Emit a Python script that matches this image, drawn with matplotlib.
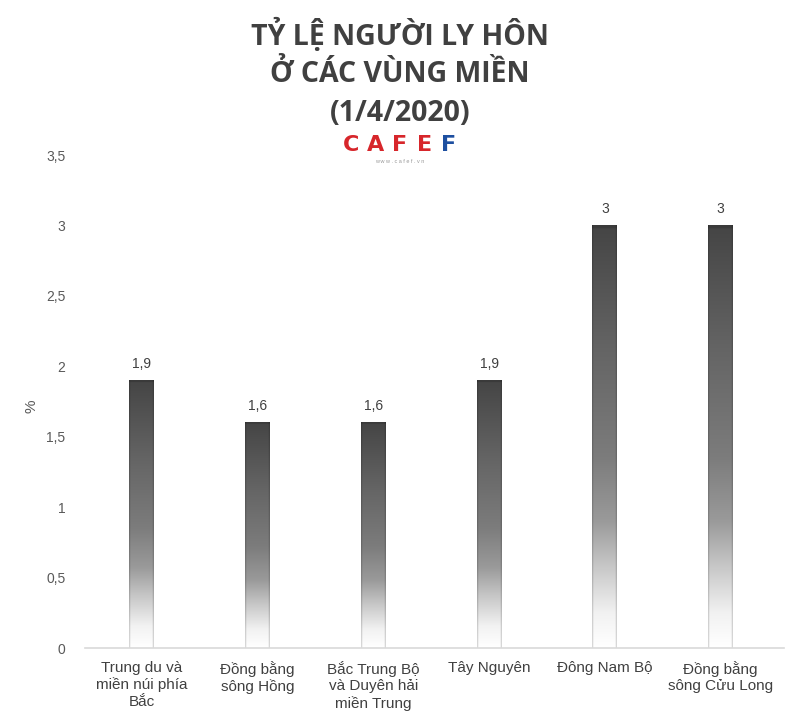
import numpy as np
import matplotlib.pyplot as plt
from matplotlib.colors import LinearSegmentedColormap

# data
regions = ['Trung du và\nmiền núi phía\nBắc', 'Đồng bằng\nsông Hồng', 'Bắc Trung Bộ\nvà Duyên hải\nmiền Trung',
           'Tây Nguyên', 'Đông Nam Bộ', 'Đồng bằng\nsông Cửu Long']
rates = [1.9, 1.6, 1.6, 1.9, 3, 3]
yticks = [0, 0.5, 1, 1.5, 2, 2.5, 3, 3.5]

plt.rcParams['font.family'] = ['Liberation Sans', 'DejaVu Sans']

fig = plt.figure(figsize=(8, 7.25), dpi=100)
ax = fig.add_axes([0.1063, 0.1062, 0.874, 0.68])

x = np.arange(len(regions))
bars = ax.bar(x, rates, width=0.215, color='none', edgecolor='none')

# gray gradient: white at bottom, dark at top
cmap = LinearSegmentedColormap.from_list('fade', [
    (0.0, '#ffffff'), (0.08, '#f2f2f2'), (0.2, '#c4c4c4'), (0.3, '#9a9a9a'),
    (0.45, '#7c7c7c'), (0.7, '#656565'), (1.0, '#454545')])
grad = np.linspace(0, 1, 256).reshape(-1, 1)
cols = cmap(grad)[:, 0, :3]
img = np.repeat(cols[:, None, :], 20, axis=1)
img[:, :1, :] *= 0.85
img[:, -1:, :] *= 0.85
img[-2:, :, :] *= 0.85

for b, v in zip(bars, rates):
    x0 = b.get_x()
    ax.imshow(img, extent=[x0, x0 + b.get_width(), 0, v], origin='lower',
              aspect='auto', interpolation='bilinear', zorder=2)
    lbl = str(v).replace('.', ',')
    ax.text(b.get_x() + b.get_width() / 2, v + 0.07, lbl, ha='center', va='bottom',
            fontsize=10, color='#404040')

ax.set_xlim(-0.49, 5.55)
ax.set_ylim(0, 3.5)
ax.set_yticks(yticks)
ax.set_yticklabels([('%g' % t).replace('.', ',') for t in yticks], fontsize=10, color='#595959')
ax.set_xticks(x)
ax.set_xticklabels(regions, fontsize=11, color='#404040', linespacing=1.25)
ax.tick_params(length=0)
ax.tick_params(axis='y', pad=14)
ax.tick_params(axis='x', pad=9)
for s in ['top', 'right', 'left']:
    ax.spines[s].set_visible(False)
ax.spines['bottom'].set_color('#d9d9d9')
ax.spines['bottom'].set_linewidth(1.2)
ax.set_ylabel('%', fontsize=11, color='#595959')
ax.yaxis.set_label_coords(-0.066, 0.49)

title_lines = ['TỶ LỆ NGƯỜI LY HÔN', 'Ở CÁC VÙNG MIỀN', '(1/4/2020)']
for i, t in enumerate(title_lines):
    fig.text(0.5, 0.952 - i * 0.0545, t, ha='center', va='center', fontsize=20.5,
             fontweight='bold', color='#404040', family='Open Sans')

# logo text, letters spread wide
logo = 'CAFEF'
logo_cols = ['#d7262b', '#d7262b', '#d7262b', '#d7262b', '#1d4fa0']
for i, (ch, c) in enumerate(zip(logo, logo_cols)):
    fig.text((351 + 24.5 * i) / 800, 0.8, ch, ha='center', va='center', fontsize=16,
             fontweight='heavy', color=c, family='DejaVu Sans')
fig.text(0.5, 0.7775, 'w w w . c a f e f . v n', ha='center', va='center', fontsize=4,
         color='#999999')

fig.savefig('out.png', dpi=100, facecolor='white')
